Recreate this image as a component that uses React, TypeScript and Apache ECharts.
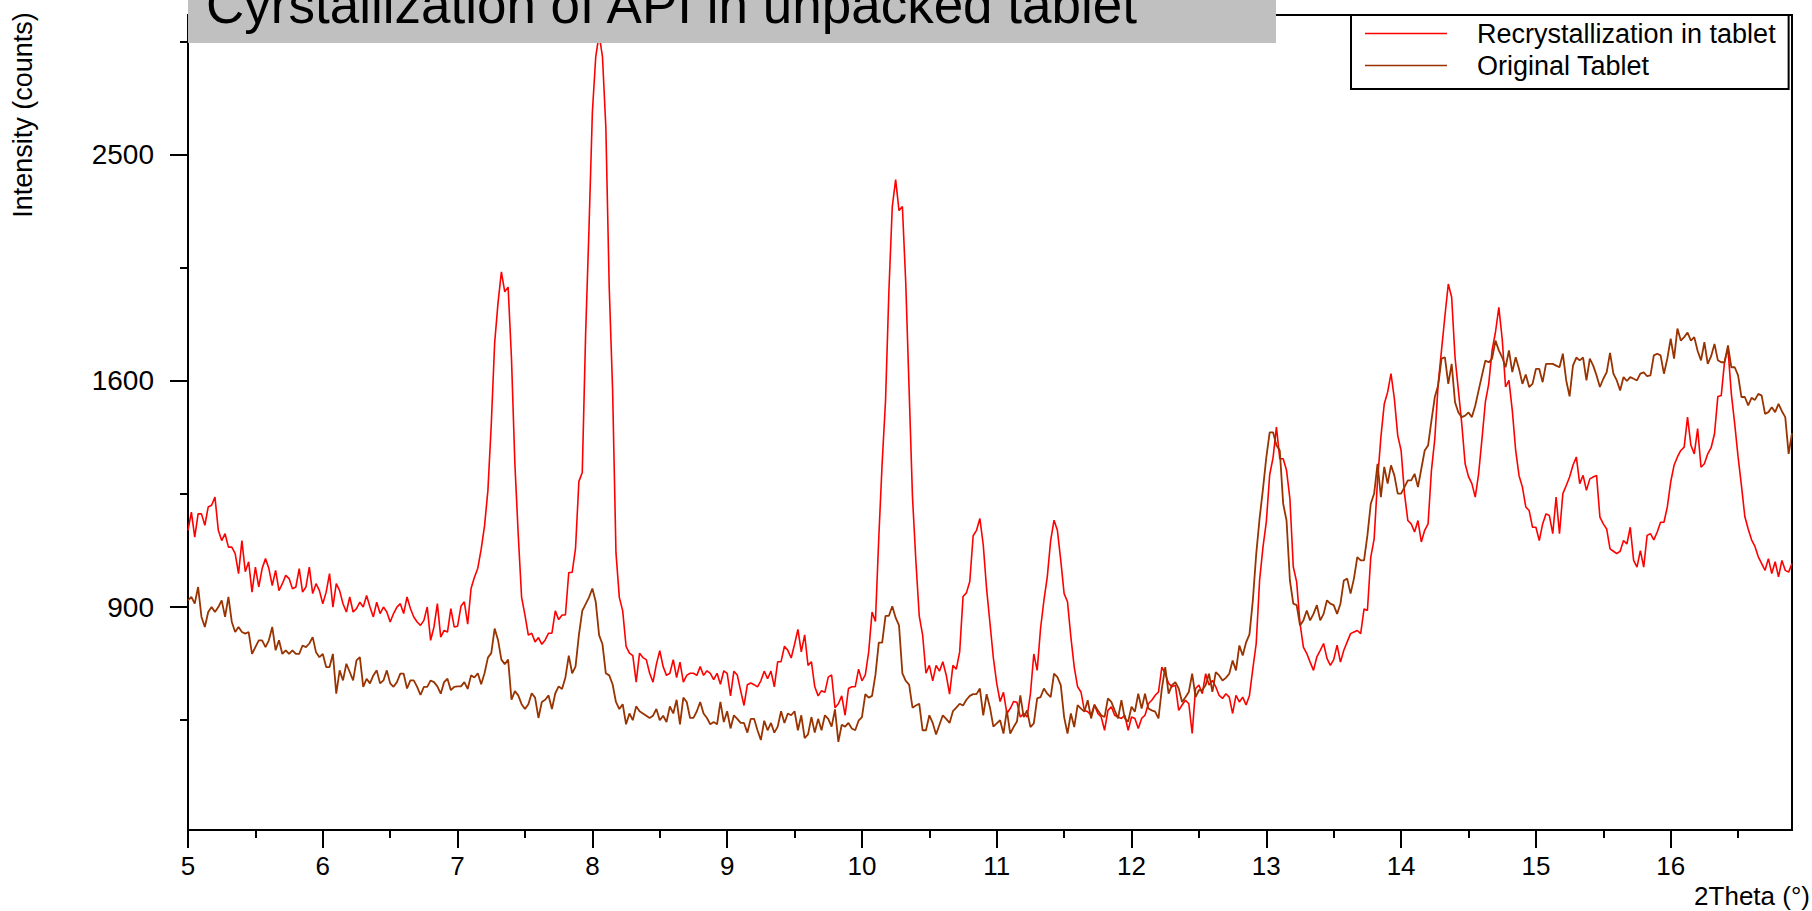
import React, { useEffect, useRef } from "react";
import * as echarts from "echarts";

// Powder diffraction scans, sampled every 0.025° 2θ from 5°
const X_START = 5;
const X_STEP = 0.025;
const X_END = 16.9;

// Recrystallization in tablet (counts)
const recrystallized = [
  1115,1169,1095,1164,1164,1130,1185,1190,1215,1115,
  1085,1105,1066,1066,1047,991,1085,996,1024,940,
  1009,954,1005,1033,1005,958,1000,944,963,986,
  977,949,954,1005,940,954,1009,936,963,944,
  909,940,991,900,963,944,909,887,927,887,
  896,913,900,931,900,874,913,883,900,887,
  861,883,900,909,883,927,896,874,861,852,
  865,900,814,848,909,822,839,835,896,848,
  850,902,914,855,950,981,1006,1060,1128,1236,
  1450,1736,1887,2008,1930,1948,1679,1321,1102,926,
  879,827,832,810,821,804,815,832,832,890,
  867,879,879,994,994,1062,1264,1292,1770,2185,
  2690,2950,3060,2950,2620,1948,1570,1050,926,890,
  799,782,776,712,782,771,766,733,712,755,
  788,749,728,733,766,723,760,712,728,733,
  733,728,749,728,739,733,718,733,707,739,
  733,680,738,729,692,658,706,710,706,701,
  715,738,720,738,701,761,761,799,789,770,
  804,842,785,828,752,761,701,680,692,688,
  724,729,653,662,680,636,697,701,701,743,
  715,729,785,887,862,1094,1323,1530,1934,2275,
  2390,2258,2275,1964,1567,1215,1027,877,828,733,
  752,715,752,738,761,729,684,752,743,785,
  928,938,969,1099,1115,1150,1072,948,857,770,
  709,667,688,640,651,667,665,632,640,632,
  685,780,740,844,918,982,1085,1145,1115,1028,
  936,914,822,748,701,689,647,644,636,660,
  640,632,603,647,655,636,632,629,636,603,
  632,629,607,629,636,662,670,681,689,748,
  732,709,701,705,647,659,670,662,596,697,
  705,685,732,705,716,701,681,674,685,677,
  640,681,666,677,659,681,744,806,972,1065,
  1140,1285,1340,1440,1336,1336,1299,1210,1010,968,
  857,797,781,760,740,773,789,806,769,752,
  766,802,760,789,810,831,835,839,831,895,
  891,1037,1090,1267,1407,1519,1560,1625,1537,1412,
  1363,1226,1144,1134,1110,1144,1081,1115,1134,1299,
  1401,1589,1711,1837,1960,1909,1684,1566,1451,1320,
  1279,1257,1215,1288,1401,1525,1589,1709,1776,1870,
  1751,1578,1601,1496,1363,1282,1246,1185,1174,1124,
  1124,1085,1134,1164,1159,1105,1215,1105,1226,1251,
  1278,1315,1342,1257,1283,1236,1272,1278,1283,1154,
  1134,1119,1061,1054,1047,1054,1085,1075,1124,1028,
  1009,1056,1009,1100,1105,1087,1110,1139,1139,1185,
  1262,1315,1342,1363,1374,1474,1380,1352,1435,1309,
  1320,1352,1372,1418,1545,1548,1670,1715,1554,1451,
  1342,1251,1156,1119,1087,1068,1038,1019,1000,1033,
  991,1024,982,1028,1000,995,1019,
];

// Original Tablet (counts)
const originalTablet = [
  918,927,909,954,874,848,887,900,887,900,
  918,874,927,861,835,848,835,831,835,780,
  797,814,814,797,814,848,789,814,780,789,
  780,789,780,780,801,797,806,822,784,772,
  780,748,748,780,685,740,716,756,736,716,
  764,772,701,720,709,728,740,709,716,740,
  709,701,712,732,732,697,716,716,701,682,
  701,701,716,712,702,685,712,720,693,701,
  702,702,712,696,728,723,733,707,733,771,
  782,844,815,766,755,766,671,691,681,661,
  650,661,686,676,630,666,671,681,650,686,
  702,696,723,776,733,749,827,890,908,926,
  950,914,827,804,733,728,707,666,650,661,
  616,640,625,656,645,640,635,630,635,650,
  625,635,621,656,640,671,616,676,666,630,
  630,645,666,640,630,616,621,616,666,621,
  645,607,636,628,619,619,598,628,628,603,
  582,624,603,619,598,611,645,619,640,636,
  645,603,636,586,594,632,598,628,603,636,
  628,611,649,578,615,611,619,607,603,624,
  632,684,676,680,729,808,808,877,877,902,
  872,852,733,715,706,653,658,662,603,603,
  636,619,594,615,636,628,619,645,653,662,
  658,671,680,684,684,697,636,684,653,611,
  618,625,596,647,596,610,622,681,632,647,
  610,618,674,677,697,685,677,732,724,705,
  632,596,640,610,659,651,644,670,629,659,
  647,636,632,674,666,647,629,670,629,622,
  655,644,685,651,685,651,647,644,629,697,
  748,685,705,712,697,666,677,689,732,677,
  693,693,705,732,689,736,728,716,722,732,
  764,740,801,776,809,829,918,1046,1150,1240,
  1341,1423,1423,1380,1363,1195,1144,972,909,905,
  852,865,891,865,882,905,865,882,918,909,
  905,882,909,972,977,936,977,1037,1028,1028,
  1100,1195,1226,1320,1215,1310,1257,1315,1283,1226,
  1226,1246,1267,1267,1288,1246,1304,1363,1379,1462,
  1543,1584,1679,1684,1589,1660,1525,1490,1474,1479,
  1490,1474,1513,1566,1619,1672,1666,1679,1745,1709,
  1684,1648,1709,1631,1684,1642,1589,1622,1578,1589,
  1642,1642,1595,1660,1660,1660,1654,1648,1697,1601,
  1545,1654,1683,1673,1683,1601,1679,1654,1619,1578,
  1607,1630,1700,1625,1601,1566,1613,1599,1613,1607,
  1601,1625,1630,1616,1619,1691,1697,1691,1625,1679,
  1752,1679,1790,1745,1758,1775,1745,1758,1707,1673,
  1739,1660,1688,1733,1673,1666,1666,1727,1648,1648,
  1619,1543,1543,1514,1540,1533,1554,1548,1485,1491,
  1508,1491,1519,1494,1474,1352,1420,
];

const seriesNames = ["Recrystallization in tablet", "Original Tablet"];
const seriesColors = ["#ff0000", "#993300"];

const xMajorTicks = [5, 6, 7, 8, 9, 10, 11, 12, 13, 14, 15, 16];
const xMinorTicks = [5.5, 6.5, 7.5, 8.5, 9.5, 10.5, 11.5, 12.5, 13.5, 14.5, 15.5, 16.5];
// Intensity axis is square-root scaled; ticks given in counts
const yMajorTicks = [900, 1600, 2500];
const yMinorTicks = [625, 1225, 2025, 3025];
const Y_AXIS_MIN = 406;
const Y_AXIS_MAX = 3154;

const TITLE = "Cyrstallization of API in unpacked tablet";
const X_NAME = "2Theta (°)";
const Y_NAME = "Intensity (counts)";

const FONT = "'Liberation Sans', Arial, Helvetica, sans-serif";

const toPoints = (counts: number[]) =>
  counts.map((c, i) => [+(X_START + i * X_STEP).toFixed(3), Math.sqrt(c)]);

export default function App() {
  const ref = useRef<HTMLDivElement>(null);

  useEffect(() => {
    if (!ref.current) return;
    const chart = echarts.init(ref.current, undefined, { renderer: "svg" });

    const black = "#000";
    const axisCommon = {
      type: "value" as const,
      splitLine: { show: false },
    };

    chart.setOption({
      animation: false,
      backgroundColor: "#fff",
      grid: {
        left: 188,
        right: 20,
        top: 15,
        bottom: 81,
        show: true,
        borderColor: black,
        borderWidth: 2,
        backgroundColor: "transparent",
      },
      legend: {
        orient: "vertical",
        left: 1351,
        top: 15,
        icon: "rect",
        itemWidth: 82,
        itemHeight: 1.5,
        itemGap: 5,
        padding: [5, 13, 10, 14],
        borderColor: black,
        borderWidth: 2,
        backgroundColor: "#fff",
        selectedMode: false,
        textStyle: {
          fontSize: 27,
          color: black,
          fontFamily: FONT,
          padding: [0, 0, 0, 25],
        },
        data: seriesNames,
      },
      xAxis: [
        {
          ...axisCommon,
          min: X_START,
          max: X_END,
          position: "bottom",
          axisLine: { show: true, onZero: false, lineStyle: { color: black, width: 2 } },
          axisTick: {
            show: true,
            customValues: xMajorTicks,
            length: 18,
            lineStyle: { color: black, width: 2 },
          },
          axisLabel: {
            customValues: xMajorTicks,
            margin: 23,
            color: black,
            fontSize: 26,
            fontFamily: FONT,
          },
        },
        {
          ...axisCommon,
          min: X_START,
          max: X_END,
          position: "bottom",
          axisLine: { show: false },
          axisTick: {
            show: true,
            customValues: xMinorTicks,
            length: 8,
            lineStyle: { color: black, width: 2 },
          },
          axisLabel: { show: false },
        },
      ],
      yAxis: [
        {
          ...axisCommon,
          min: Math.sqrt(Y_AXIS_MIN),
          max: Math.sqrt(Y_AXIS_MAX),
          position: "left",
          axisLine: { show: true, onZero: false, lineStyle: { color: black, width: 2 } },
          axisTick: {
            show: true,
            customValues: yMajorTicks.map(Math.sqrt),
            length: 18,
            lineStyle: { color: black, width: 2 },
          },
          axisLabel: {
            customValues: yMajorTicks.map(Math.sqrt),
            formatter: (v: number) => String(Math.round(v * v)),
            margin: 34,
            color: black,
            fontSize: 28,
            fontFamily: FONT,
          },
        },
        {
          ...axisCommon,
          min: Math.sqrt(Y_AXIS_MIN),
          max: Math.sqrt(Y_AXIS_MAX),
          position: "left",
          axisLine: { show: false },
          axisTick: {
            show: true,
            customValues: yMinorTicks.map(Math.sqrt),
            length: 8,
            lineStyle: { color: black, width: 2 },
          },
          axisLabel: { show: false },
        },
      ],
      series: [
        {
          name: seriesNames[0],
          type: "line",
          data: toPoints(recrystallized),
          showSymbol: false,
          symbol: "none",
          color: seriesColors[0],
          lineStyle: { color: seriesColors[0], width: 1.6 },
          xAxisIndex: 0,
          yAxisIndex: 0,
        },
        {
          name: seriesNames[1],
          type: "line",
          data: toPoints(originalTablet),
          showSymbol: false,
          symbol: "none",
          color: seriesColors[1],
          lineStyle: { color: seriesColors[1], width: 1.8 },
          xAxisIndex: 0,
          yAxisIndex: 0,
        },
      ],
      graphic: [
        // Title banner sits over the top of the plot area
        {
          type: "rect",
          z: 100,
          zlevel: 0,
          shape: { x: 188, y: 0, width: 1088, height: 43 },
          style: { fill: "#c0c0c0" },
        },
        {
          type: "text",
          z: 101,
          x: 206,
          y: 4,
          style: {
            text: TITLE,
            font: `53px ${FONT}`,
            fill: black,
            align: "left",
            verticalAlign: "middle",
          },
        },
        {
          type: "text",
          z: 100,
          x: 23,
          y: 115,
          rotation: Math.PI / 2,
          style: {
            text: Y_NAME,
            font: `27px ${FONT}`,
            fill: black,
            align: "center",
            verticalAlign: "middle",
          },
        },
        {
          type: "text",
          z: 100,
          x: 1810,
          y: 896,
          style: {
            text: X_NAME,
            font: `26px ${FONT}`,
            fill: black,
            align: "right",
            verticalAlign: "middle",
          },
        },
      ],
    });

    return () => chart.dispose();
  }, []);

  return (
    <div
      ref={ref}
      style={{ position: "fixed", left: 0, top: 0, width: 1812, height: 911 }}
    />
  );
}
